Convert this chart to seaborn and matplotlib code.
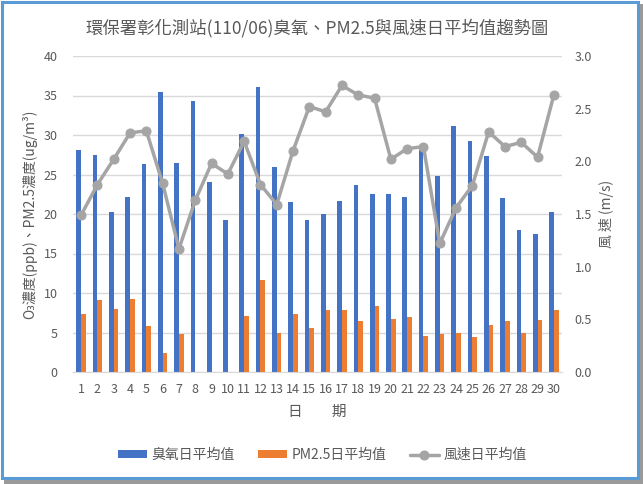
import numpy as np
import pandas as pd
import matplotlib.pyplot as plt
import seaborn as sns
from matplotlib.patches import Rectangle

days = [str(d) for d in range(1, 31)]

ozone = [28.1, 27.5, 20.3, 22.2, 26.3, 35.5, 26.5, 34.3, 24.1, 19.3,
         30.1, 36.1, 25.9, 21.5, 19.2, 20.0, 21.6, 23.7, 22.5, 22.5,
         22.1, 28.3, 24.8, 31.1, 29.3, 27.3, 22.0, 18.0, 17.5, 20.3]

pm25 = [7.4, 9.1, 8.0, 9.3, 5.8, 2.4, 4.8, np.nan, np.nan, np.nan,
        7.1, 11.7, 5.0, 7.3, 5.6, 7.8, 7.9, 6.5, 8.3, 6.7,
        6.9, 4.6, 4.8, 5.0, 4.4, 5.9, 6.5, 4.9, 6.6, 7.9]

wind = [1.49, 1.78, 2.02, 2.27, 2.29, 1.79, 1.17, 1.63, 1.98, 1.88,
        2.19, 1.78, 1.59, 2.10, 2.52, 2.47, 2.72, 2.63, 2.60, 2.02,
        2.12, 2.14, 1.22, 1.56, 1.77, 2.28, 2.14, 2.18, 2.04, 2.63]

series_names = ["臭氧日平均值", "PM2.5日平均值", "風速日平均值"]
colors = ["#4472C4", "#ED7D31", "#A5A5A5"]
text_color = "#595959"
grid_color = "#D9D9D9"

sns.set_style("white")
plt.rcParams["font.family"] = ["Noto Sans CJK TC", "DejaVu Sans"]

df = pd.DataFrame({
    "day": days * 2,
    "value": ozone + pm25,
    "series": [series_names[0]] * len(days) + [series_names[1]] * len(days),
})

fig = plt.figure(figsize=(6.43, 4.84), dpi=100)

# screenshot-style frame with shadow
fig.patches.append(Rectangle((4 / 643, 0), 639 / 643, 480 / 484,
                             transform=fig.transFigure, facecolor="#9a9a9a",
                             edgecolor="none", zorder=-20))
fig.patches.append(Rectangle((1.5 / 643, 6.5 / 484), 636 / 643, 476 / 484,
                             transform=fig.transFigure, facecolor="white",
                             edgecolor="#5B9BD5", linewidth=2.2, zorder=-10))

ax = fig.add_axes([73 / 643, 112 / 484, 489 / 643, 316 / 484])
ax.patch.set_alpha(0)

sns.barplot(data=df, x="day", y="value", hue="series", order=days,
            hue_order=series_names[:2], palette=colors[:2], saturation=1,
            width=0.58, gap=0, linewidth=0, ax=ax, zorder=2)

ax.set_xlim(-0.5, len(days) - 0.5)
ax.set_ylim(0, 40)
ax.set_yticks(np.arange(0, 41, 5))
ax.yaxis.grid(True, color=grid_color, linewidth=1, zorder=0)
ax.set_axisbelow(True)
for s in ["top", "left", "right"]:
    ax.spines[s].set_visible(False)
ax.spines["bottom"].set_color(grid_color)
ax.tick_params(axis="both", length=0, labelsize=9, labelcolor=text_color)
ax.tick_params(axis="y", pad=11)
ax.tick_params(axis="x", pad=8)
ax.set_xlabel("日\u3000\u3000期", fontsize=10.5, color=text_color, labelpad=6)
ax.set_ylabel("O\u2083濃度(ppb)、PM2.5濃度(ug/m\u00b3)", fontsize=10,
              color=text_color, labelpad=5)

ax2 = ax.twinx()
sns.lineplot(x=np.arange(len(days)), y=wind, ax=ax2, color=colors[2],
             linewidth=2.5, marker="o", markersize=6.5,
             markeredgecolor=colors[2], label=series_names[2], zorder=3)
ax2.set_ylim(0, 3)
ax2.set_yticks(np.arange(0, 3.01, 0.5))
ax2.set_yticklabels([f"{v:.1f}" for v in np.arange(0, 3.01, 0.5)])
for s in ax2.spines.values():
    s.set_visible(False)
ax2.tick_params(axis="y", length=0, labelsize=9, labelcolor=text_color, pad=9)
ax2.set_ylabel("風 速 (m/s)", fontsize=10, color=text_color, labelpad=5)

ax.set_title("環保署彰化測站(110/06)臭氧、PM2.5與風速日平均值趨勢圖",
             fontsize=12.5, color=text_color, pad=16)

h1, l1 = ax.get_legend_handles_labels()
h2, l2 = ax2.get_legend_handles_labels()
ax.get_legend().remove()
ax2.get_legend().remove()
fig.legend(h1 + h2, l1 + l2, loc="center", bbox_to_anchor=(322 / 643, 29 / 484),
           ncol=3, frameon=False, fontsize=10, labelcolor=text_color,
           handlelength=2.1, handleheight=0.5, handletextpad=0.3,
           columnspacing=1.7)

fig.savefig("out.png", dpi=100)
